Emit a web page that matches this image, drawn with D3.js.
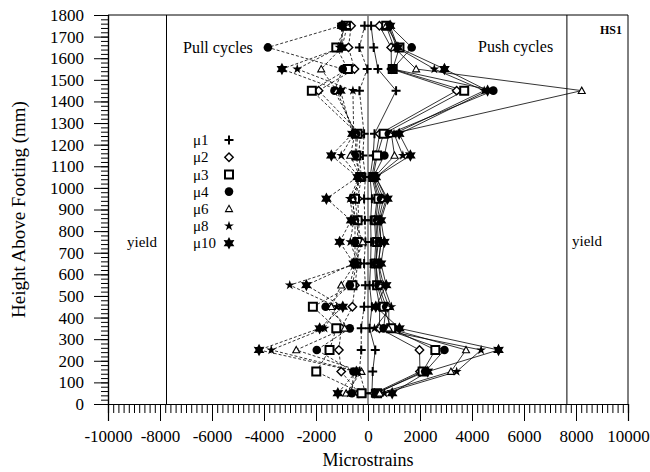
<!DOCTYPE html>
<html>
<head>
<meta charset="utf-8">
<script src="https://cdn.jsdelivr.net/npm/d3@7"></script>
<style>
  body { margin: 0; background: #fff; }
  svg text { font-family: "Liberation Serif", "Times New Roman", serif; fill: #000; }
</style>
</head>
<body>
<div id="chart"></div>
<script>
// -----------------------------
// DATA
// -----------------------------
const heights = [50, 150, 250, 350, 450, 550, 650, 750, 850, 950, 1050, 1150, 1250, 1450, 1550, 1650, 1750];
const seriesNames = ["μ1", "μ2", "μ3", "μ4", "μ6", "μ8", "μ10"];

// pull cycles (dashed) and push cycles (solid), microstrains per height
const pullMu1 = [-100, -330, -260, -260, -150, -100, -150, -100, -120, -150, -100, -200, -150, -330, -30, -330, -130];
const pushMu1 = [150, 180, 280, 60, 150, 60, 100, 120, 100, 150, 80, 200, 250, 1080, 380, 220, 120];
const pullMu2 = [-350, -1030, -1120, -1030, -600, -500, -400, -350, -350, -400, -250, -350, -300, -1900, -520, -750, -650];
const pushMu2 = [250, 2000, 1980, 440, 450, 300, 250, 300, 250, 350, 150, 300, 450, 3410, 900, 890, 440];
const pullMu3 = [-250, -1990, -1480, -1220, -2120, -600, -450, -400, -400, -500, -300, -450, -400, -2160, -775, -1220, -850];
const pushMu3 = [350, 2100, 2590, 890, 600, 350, 300, 350, 300, 400, 200, 350, 600, 3700, 950, 1210, 700];
const pullMu4 = [-620, -560, -1970, -700, -1630, -700, -500, -500, -500, -600, -300, -500, -450, -1290, -970, -3850, -1030];
const pushMu4 = [300, 2200, 2940, 600, 700, 400, 300, 400, 350, 500, 200, 630, 800, 4820, 950, 1680, 830];
const pullMu6 = [-840, -250, -2760, -900, -1410, -1030, -500, -200, -500, -600, -300, -680, -500, -1200, -1800, -1000, -800];
const pushMu6 = [450, 3190, 3770, 800, 800, 500, 400, 500, 400, 600, 250, 1020, 900, 8220, 1850, 1000, 700];
const pullMu8 = [-700, -400, -3720, -1670, -1200, -3010, -400, -680, -550, -700, -350, -1030, -550, -580, -2720, -1100, -900];
const pushMu8 = [630, 3410, 4350, 250, 900, 600, 400, 500, 450, 700, 300, 1340, 1000, 4470, 2550, 1100, 800];
const pullMu10 = [-1160, -450, -4190, -1860, -970, -2370, -550, -1090, -650, -1600, -400, -1410, -600, -1060, -3310, -1000, -1000];
const pushMu10 = [930, 2300, 5020, 1210, 300, 700, 500, 630, 500, 750, 300, 1630, 1200, 4600, 2940, 1150, 850];

const xTicks = [-10000, -8000, -6000, -4000, -2000, 0, 2000, 4000, 6000, 8000, 10000];
const yTicks = [0, 100, 200, 300, 400, 500, 600, 700, 800, 900, 1000, 1100, 1200, 1300, 1400, 1500, 1600, 1700, 1800];
const yieldStrain = [-7750, 7650];

// -----------------------------
// MARKER SHAPES
// -----------------------------
function star6(ro, ri) {
    const pts = d3.range(12).map(i => {
        const a = i * Math.PI / 6 - Math.PI / 2;
        const r = i % 2 ? ri : ro;
        return [r * Math.cos(a), r * Math.sin(a)];
    });
    return "M" + pts.join("L") + "Z";
}

const markers = {
    "μ1": { d: "M-4.5,0H4.5M0,-4.5V4.5", fill: "none", sw: 2 },
    "μ2": { d: "M0,-4.2L4.2,0L0,4.2L-4.2,0Z", fill: "#fff", sw: 1.4 },
    "μ3": { d: "M-4,-4H4V4H-4Z", fill: "#fff", sw: 2 },
    "μ4": { d: d3.symbol(d3.symbolCircle, 58)(), fill: "#000", sw: 0 },
    "μ6": { d: "M0,-3.5L3.5,2.8H-3.5Z", fill: "#fff", sw: 1.1 },
    "μ8": { d: d3.symbol(d3.symbolStar, 30)(), fill: "#000", sw: 0 },
    "μ10": { d: star6(6.2, 3.4), fill: "#000", sw: 0 }
};

const table = [
    { name: "μ1", pull: pullMu1, push: pushMu1 },
    { name: "μ2", pull: pullMu2, push: pushMu2 },
    { name: "μ3", pull: pullMu3, push: pushMu3 },
    { name: "μ4", pull: pullMu4, push: pushMu4 },
    { name: "μ6", pull: pullMu6, push: pushMu6 },
    { name: "μ8", pull: pullMu8, push: pushMu8 },
    { name: "μ10", pull: pullMu10, push: pushMu10 }
];

// -----------------------------
// SVG + SCALES
// -----------------------------
const width = 650, height = 472;
const svg = d3.select("#chart").append("svg")
    .attr("width", width)
    .attr("height", height);

const x = d3.scaleLinear().domain([-10000, 10000]).range([108, 628]);
const y = d3.scaleLinear().domain([0, 1800]).range([404, 15]);

// frame + reference lines
svg.append("line").attr("x1", x(-10000)).attr("x2", x(10000)).attr("y1", y(1800)).attr("y2", y(1800))
    .attr("stroke", "#000").attr("stroke-width", 1);
svg.append("line").attr("x1", x(10000)).attr("x2", x(10000)).attr("y1", y(1800)).attr("y2", y(0))
    .attr("stroke", "#000").attr("stroke-width", 1);
svg.append("line").attr("x1", x(0)).attr("x2", x(0)).attr("y1", y(1800)).attr("y2", y(0))
    .attr("stroke", "#777").attr("stroke-width", 1.6);
svg.selectAll(".yield").data(yieldStrain).enter().append("line")
    .attr("x1", d => x(d)).attr("x2", d => x(d))
    .attr("y1", y(1800)).attr("y2", y(0))
    .attr("stroke", "#000").attr("stroke-width", 1);

// -----------------------------
// SERIES LINES
// -----------------------------
const line = d3.line()
    .x(d => x(d.v))
    .y(d => y(d.h));

const toPts = arr => arr.map((v, i) => ({ v: v, h: heights[i] }));

const lineG = svg.append("g");
table.forEach(s => {
    lineG.append("path")
        .attr("d", line(toPts(s.pull)))
        .attr("fill", "none").attr("stroke", "#000")
        .attr("stroke-width", 0.8).attr("stroke-dasharray", "3,2");
    lineG.append("path")
        .attr("d", line(toPts(s.push)))
        .attr("fill", "none").attr("stroke", "#000")
        .attr("stroke-width", 0.8);
});

// -----------------------------
// MARKERS
// -----------------------------
const markG = svg.append("g");
table.forEach(s => {
    const m = markers[s.name];
    const pts = toPts(s.pull).concat(toPts(s.push));
    markG.selectAll(null).data(pts).enter().append("path")
        .attr("d", m.d)
        .attr("transform", d => `translate(${x(d.v)},${y(d.h)})`)
        .attr("fill", m.fill)
        .attr("stroke", "#000")
        .attr("stroke-width", m.sw);
});

// -----------------------------
// AXES
// -----------------------------
svg.append("g").attr("transform", `translate(0,${y(0)})`)
    .call(d3.axisBottom(x).tickValues(d3.range(-10000, 10001, 200)).tickSize(9).tickFormat(""));
const xMajor = svg.append("g").attr("transform", `translate(0,${y(0)})`)
    .call(d3.axisBottom(x).tickValues(xTicks).tickSize(17).tickPadding(9).tickFormat(d => String(d)));
xMajor.selectAll("text").attr("font-size", 17).attr("font-family", "Liberation Serif").attr("fill", "#000");

svg.append("g").attr("transform", `translate(${x(-10000)},0)`)
    .call(d3.axisLeft(y).tickValues(d3.range(0, 1801, 20)).tickSize(7).tickFormat(""));
const yMajor = svg.append("g").attr("transform", `translate(${x(-10000)},0)`)
    .call(d3.axisLeft(y).tickValues(yTicks).tickSize(14).tickPadding(10).tickFormat(d => String(d)));
yMajor.selectAll("text").attr("font-size", 17).attr("font-family", "Liberation Serif").attr("fill", "#000");

svg.selectAll(".domain").attr("stroke", "#000").attr("stroke-width", 1.2);
svg.selectAll(".tick line").attr("stroke", "#000").attr("stroke-width", 1);

// axis titles
svg.append("text")
    .attr("x", x(0)).attr("y", 466)
    .attr("text-anchor", "middle").attr("font-size", 18).attr("fill", "#000")
    .text("Microstrains");
svg.append("text")
    .attr("transform", `translate(25,${(y(0) + y(1800)) / 2}) rotate(-90)`)
    .attr("text-anchor", "middle").attr("font-size", 19).attr("fill", "#000")
    .text("Height Above Footing (mm)");

// annotations
svg.append("text").attr("x", 183).attr("y", 53).attr("font-size", 16).attr("fill", "#000").text("Pull cycles");
svg.append("text").attr("x", 478).attr("y", 52).attr("font-size", 16).attr("fill", "#000").text("Push cycles");
svg.append("text").attr("x", 600).attr("y", 34).attr("font-size", 12).attr("font-weight", "bold").attr("fill", "#000").text("HS1");
svg.append("text").attr("x", 127).attr("y", 247).attr("font-size", 15).attr("fill", "#000").text("yield");
svg.append("text").attr("x", 572).attr("y", 246).attr("font-size", 15).attr("fill", "#000").text("yield");

// -----------------------------
// LEGEND
// -----------------------------
const legend = svg.append("g");
seriesNames.forEach((name, i) => {
    const ly = 140 + i * 17.2;
    legend.append("text")
        .attr("x", 193).attr("y", ly).attr("dy", "0.35em")
        .attr("font-size", 15).attr("fill", "#000").text(name);
    const m = markers[name];
    legend.append("path")
        .attr("d", m.d)
        .attr("transform", `translate(229,${ly})`)
        .attr("fill", m.fill).attr("stroke", "#000").attr("stroke-width", m.sw);
});
</script>
</body>
</html>
